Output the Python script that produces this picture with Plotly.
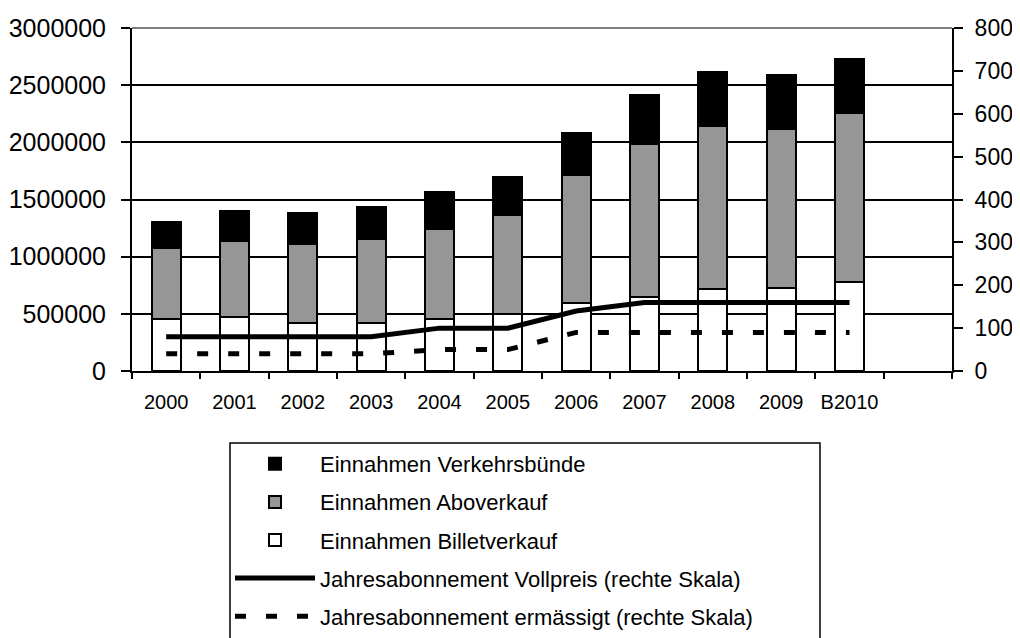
import plotly.graph_objects as go

categories = ["2000", "2001", "2002", "2003", "2004", "2005", "2006", "2007", "2008", "2009", "B2010", " "]
billet = [459000, 473000, 421000, 421000, 458000, 502000, 599000, 648000, 713000, 730000, 780000, None]
abo = [613000, 666000, 686000, 730000, 780000, 862000, 1116000, 1338000, 1431000, 1385000, 1475000, None]
verkehr = [234000, 257000, 278000, 283000, 325000, 336000, 365000, 424000, 467000, 476000, 476000, None]
vollpreis = [80, 80, 80, 80, 100, 100, 140, 160, 160, 160, 160, None]
ermaessigt = [40, 40, 40, 40, 50, 50, 90, 90, 90, 90, 90, None]

FONT = "Liberation Sans, Arial, sans-serif"
bar_line = dict(color="black", width=2)

fig = go.Figure()
fig.add_trace(go.Bar(x=categories, y=billet, name="Einnahmen Billetverkauf",
                     marker=dict(color="white", line=bar_line), legendrank=3, legendgroup="c"))
fig.add_trace(go.Bar(x=categories, y=abo, name="Einnahmen Aboverkauf",
                     marker=dict(color="#969696", line=bar_line), legendrank=2, legendgroup="b"))
fig.add_trace(go.Bar(x=categories, y=verkehr, name="Einnahmen Verkehrsbünde",
                     marker=dict(color="black", line=bar_line), legendrank=1, legendgroup="a"))
fig.add_trace(go.Scatter(x=categories, y=vollpreis, name="Jahresabonnement Vollpreis (rechte Skala)",
                         mode="lines", line=dict(color="black", width=5), yaxis="y2",
                         legendrank=4, legendgroup="d"))
fig.add_trace(go.Scatter(x=categories, y=ermaessigt, name="Jahresabonnement ermässigt (rechte Skala)",
                         mode="lines", line=dict(color="black", width=5, dash="11px,20px"), yaxis="y2",
                         legendrank=5, legendgroup="e"))

# the page body adds an 8px offset, so the figure is 8px smaller than the window
fig.update_layout(
    width=1012, height=630,
    margin=dict(l=124, r=68, t=20, b=267, autoexpand=False),
    paper_bgcolor="white", plot_bgcolor="white",
    barmode="stack", bargap=0.58,
    font=dict(family=FONT, color="black"),
    xaxis=dict(type="category", categoryorder="array", categoryarray=categories,
               tickson="boundaries", ticks="outside", ticklen=6, tickwidth=2, tickcolor="black",
               showline=True, linecolor="black", linewidth=2, showgrid=False,
               tickfont=dict(size=20), range=[-0.5, 11.5], automargin=False,
               ticklabelstandoff=12),
    yaxis=dict(range=[0, 3000000], dtick=500000, tickformat=".0f",
               ticks="outside", ticklen=9, tickwidth=2, tickcolor="black",
               showline=True, linecolor="black", linewidth=2,
               showgrid=True, gridcolor="black", gridwidth=1.5,
               zeroline=False, tickfont=dict(size=25), automargin=False,
               ticklabelstandoff=10),
    yaxis2=dict(range=[0, 800], dtick=100, overlaying="y", side="right",
                ticks="outside", ticklen=9, tickwidth=2, tickcolor="black",
                showline=True, linecolor="black", linewidth=2, showgrid=False,
                zeroline=False, tickfont=dict(size=23), automargin=False,
                ticklabelstandoff=7),
    legend=dict(x=0.1195, xanchor="left", y=-0.2099, yanchor="top",
                orientation="v", traceorder="grouped", tracegroupgap=6.5,
                borderwidth=0, bgcolor="rgba(0,0,0,0)",
                font=dict(size=22, family=FONT), itemwidth=80),
    shapes=[
        dict(type="line", xref="paper", yref="paper", x0=0, x1=1, y0=1, y1=1,
             line=dict(color="#808080", width=2)),
        # legend frame (wider than plotly's auto-sized legend box)
        dict(type="rect", xref="paper", yref="paper", x0=0.1195, x1=0.839,
             y0=-0.2099, y1=-0.79, line=dict(color="black", width=1.5),
             fillcolor="rgba(0,0,0,0)", layer="above"),
    ],
)

fig.write_html("out.html")
